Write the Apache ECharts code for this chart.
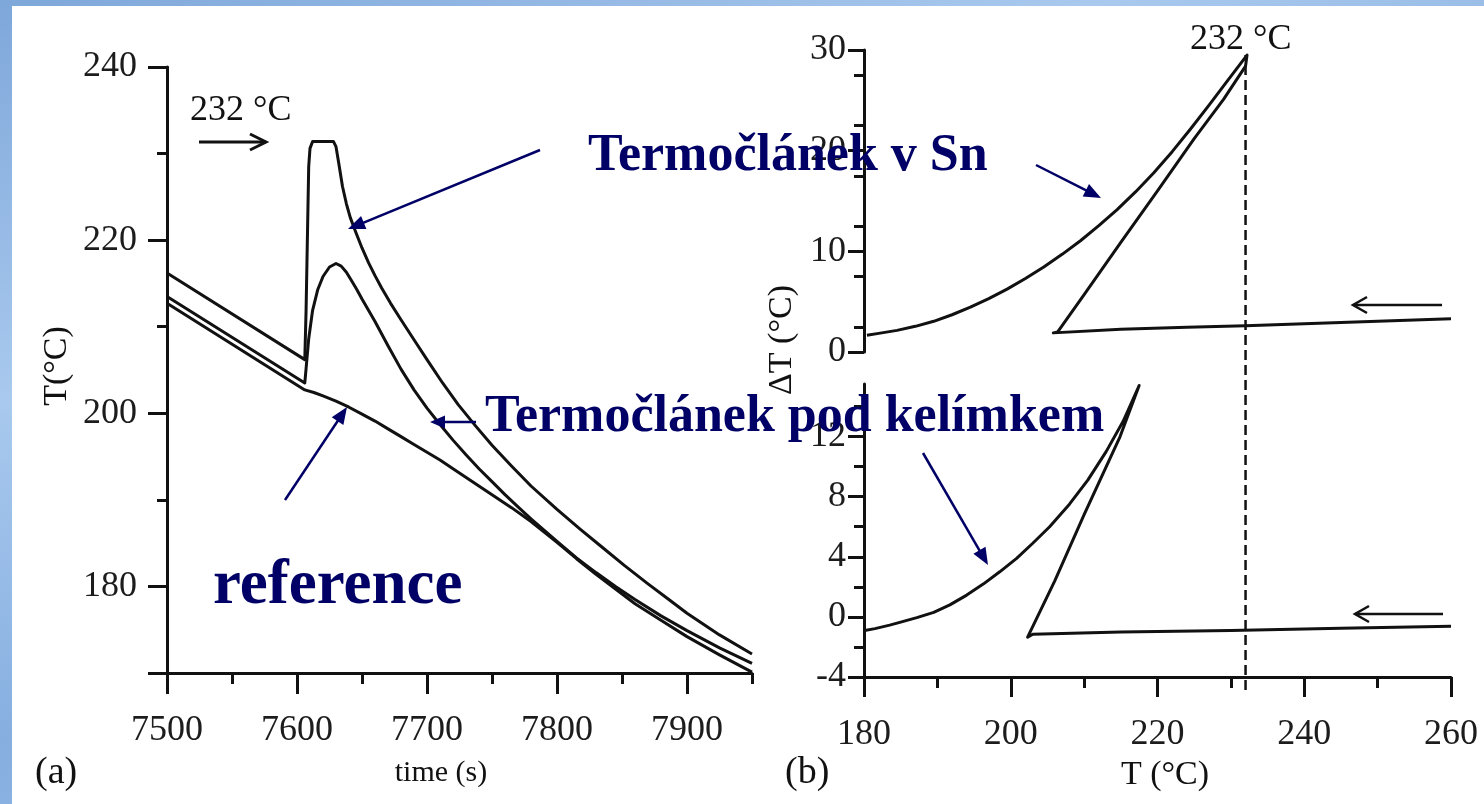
<!DOCTYPE html>
<html>
<head>
<meta charset="utf-8">
<script src="https://cdn.jsdelivr.net/npm/echarts@6/dist/echarts.min.js"></script>
<style>
  html, body { margin: 0; padding: 0; }
  body {
    width: 1484px; height: 804px; overflow: hidden; position: relative;
    background: linear-gradient(160deg, #7ea7da 0%, #a9c9ee 30%, #86afe0 55%, #9ec1ea 100%);
  }
  #paper { position: absolute; left: 12px; top: 6px; width: 1472px; height: 798px; background: #fff; }
  #chart { position: absolute; left: 0; top: 0; width: 1484px; height: 804px; }
</style>
</head>
<body>
<div id="paper"></div>
<div id="chart"></div>
<script>
// ---- (a) temperature vs. time during cooling through the Sn freezing point ----
const timeSn = [7500, 7606, 7607, 7609, 7610, 7612, 7628, 7630, 7632, 7635, 7638, 7641, 7645, 7650, 7655, 7660, 7665, 7672, 7680, 7690, 7700, 7712, 7724, 7737, 7750, 7765, 7780, 7800, 7818, 7835, 7852, 7870, 7885, 7900, 7925, 7950];
const tempSn = [216.2, 206.2, 212.0, 228.5, 230.6, 231.4, 231.4, 230.8, 229.0, 226.2, 224.2, 222.6, 221.0, 219.1, 217.4, 215.9, 214.5, 212.7, 210.8, 208.5, 206.2, 203.5, 201.0, 198.6, 196.3, 193.9, 191.6, 188.9, 186.6, 184.5, 182.4, 180.3, 178.6, 176.9, 174.4, 172.2];

const timePod = [7500, 7606, 7607, 7609, 7612, 7616, 7620, 7625, 7630, 7634, 7638, 7642, 7646, 7650, 7655, 7660, 7670, 7680, 7690, 7700, 7710, 7720, 7730, 7740, 7750, 7760, 7770, 7780, 7790, 7800, 7815, 7830, 7845, 7860, 7880, 7900, 7925, 7950];
const tempPod = [213.5, 203.5, 205.2, 208.6, 211.9, 214.3, 215.8, 216.9, 217.3, 217.0, 216.3, 215.3, 214.3, 213.2, 211.9, 210.6, 207.8, 205.1, 202.7, 200.6, 198.7, 196.9, 195.2, 193.6, 192.1, 190.6, 189.2, 187.8, 186.5, 185.2, 183.3, 181.6, 180.0, 178.5, 176.6, 174.9, 172.9, 171.1];

const timeRef = [7500, 7606, 7613, 7620, 7630, 7640, 7650, 7660, 7670, 7680, 7690, 7700, 7710, 7720, 7735, 7750, 7765, 7780, 7800, 7815, 7830, 7845, 7860, 7880, 7900, 7925, 7950];
const tempRef = [212.7, 202.7, 202.4, 202.0, 201.4, 200.7, 199.9, 199.1, 198.2, 197.3, 196.4, 195.5, 194.6, 193.6, 192.1, 190.6, 189.1, 187.5, 185.1, 183.2, 181.4, 179.7, 178.0, 176.1, 174.2, 172.1, 170.1];

const timeTicks = [7500, 7600, 7700, 7800, 7900];
const timeMinor = [7550, 7650, 7750, 7850, 7950];
const tempTicks = [180, 200, 220, 240];
const tempTickMarks = [170, 180, 200, 220, 240];
const tempMinor = [190, 210, 230];

// ---- (b) temperature difference vs. sample temperature ----
// path order: heating branch from the right, melting rise, then cooling branch back to the left
const tSn  = [260, 250, 240, 232, 224, 215, 205.8, 206.4, 210, 215, 220, 225, 229, 232, 232.2, 229.5, 227, 224.5, 222, 219.5, 217, 214.5, 212, 209.5, 207, 204.5, 202, 199.5, 197, 194.5, 192, 189.5, 187, 184.5, 182, 180.4];
const dTSn = [3.3, 3.05, 2.8, 2.6, 2.45, 2.25, 1.9, 2.0, 5.7, 10.9, 16.0, 21.2, 25.1, 28.4, 29.5, 26.9, 24.5, 22.15, 19.9, 17.8, 15.9, 14.15, 12.55, 11.05, 9.7, 8.45, 7.3, 6.25, 5.3, 4.45, 3.7, 3.05, 2.55, 2.15, 1.85, 1.66];

const tPod  = [260, 245, 230, 215, 203, 202.3, 206, 210, 214.9, 217.5, 215.3, 213, 210.5, 208, 205.3, 203, 200.8, 198.5, 196.3, 194, 191.7, 189.5, 187.2, 185, 183.5, 181.5, 180.1];
const dTPod = [-0.62, -0.76, -0.9, -1.0, -1.15, -1.35, 2.4, 6.8, 12.0, 15.4, 13.0, 11.0, 9.1, 7.5, 6.0, 4.9, 3.9, 3.0, 2.2, 1.45, 0.8, 0.3, -0.05, -0.35, -0.55, -0.78, -0.9];

const meltT = 232;
const tbTicks = [180, 200, 220, 240, 260];
const dTTopTicks = [0, 10, 20, 30];
const dTPodTicks = [-4, 0, 4, 8, 12];
const dTPodMinor = [-2, 2, 6, 10, 14];

const SERIF = '"Liberation Serif", "Times New Roman", serif';
const INK = '#111111';
const NAVY = '#000066';

const pairs = (xs, ys) => xs.map((x, i) => [x, ys[i]]);

const line = { show: true, onZero: false, lineStyle: { color: INK, width: 3 } };
const noLine = { show: false, onZero: false };
const tick = (len, values) => ({ show: true, length: len, customValues: values, lineStyle: { color: INK, width: 3 } });
const label = (margin, values) => ({
  show: true, customValues: values, margin, fontFamily: SERIF, fontSize: 36, color: '#1c1c1c',
  formatter: v => String(v)
});
const hidden = { show: false };

function curve(xi, yi, data) {
  return {
    type: 'line', xAxisIndex: xi, yAxisIndex: yi, data,
    symbol: 'none', showSymbol: false, smooth: false, clip: false,
    lineStyle: { color: INK, width: 3, join: 'round' }, z: 3, silent: true
  };
}

// annotation arrows: filled head (navy) or open head (black)
function arrow(x1, y1, x2, y2, color, width, headLen, headW, open) {
  const a = Math.atan2(y2 - y1, x2 - x1);
  const c = Math.cos(a), s = Math.sin(a);
  const bx = x2 - headLen * c, by = y2 - headLen * s;
  const px = -s * headW / 2, py = c * headW / 2;
  const els = [];
  if (open) {
    els.push({ type: 'line', shape: { x1, y1, x2, y2 }, style: { stroke: color, lineWidth: width }, z: 50 });
    els.push({ type: 'polyline', shape: { points: [[bx + px, by + py], [x2, y2], [bx - px, by - py]] },
               style: { stroke: color, lineWidth: width, fill: null }, z: 50 });
  } else {
    els.push({ type: 'line', shape: { x1, y1, x2: bx + 2 * c, y2: by + 2 * s }, style: { stroke: color, lineWidth: width }, z: 50 });
    els.push({ type: 'polygon', shape: { points: [[x2, y2], [bx + px, by + py], [bx - px, by - py]] },
               style: { fill: color }, z: 50 });
  }
  return els;
}

function text(x, y, str, font, opts = {}) {
  return {
    type: 'text', x, y, rotation: opts.rotation || 0, z: 60,
    style: { text: str, font, fill: opts.fill || INK, align: opts.align || 'left', verticalAlign: 'middle' }
  };
}

const graphics = [
  text(190, 111, '232 °C', '36px ' + SERIF),
  ...arrow(199, 142, 266, 142, INK, 3, 16, 16, true),
  text(1190, 40, '232 °C', '36px ' + SERIF),
  ...arrow(1442, 305, 1353, 305, INK, 2.5, 14, 16, true),
  ...arrow(1443, 614, 1355, 614, INK, 2.5, 14, 16, true),
  text(57, 366, 'T(°C)', '34px ' + SERIF, { rotation: Math.PI / 2, align: 'center' }),
  text(782, 340, 'ΔT (°C)', '34px ' + SERIF, { rotation: Math.PI / 2, align: 'center' }),
  text(441, 773, 'time (s)', '30px ' + SERIF, { align: 'center' }),
  text(35, 773, '(a)', '38px ' + SERIF),
  text(785, 773, '(b)', '38px ' + SERIF),
  text(1165, 775, 'T (°C)', '34px ' + SERIF, { align: 'center' }),
  text(588, 157, 'Termočlánek v Sn', 'bold 52px ' + SERIF, { fill: NAVY }),
  text(485, 418, 'Termočlánek pod kelímkem', 'bold 52px ' + SERIF, { fill: NAVY }),
  text(213, 587, 'reference', 'bold 63px ' + SERIF, { fill: NAVY }),
  ...arrow(540, 150, 348, 229, NAVY, 2.5, 17, 14, false),
  ...arrow(285, 500, 347, 407, NAVY, 2.5, 17, 14, false),
  ...arrow(476, 422, 430, 422, NAVY, 2.5, 15, 13, false),
  ...arrow(1036, 165, 1101, 198, NAVY, 2.5, 17, 14, false),
  ...arrow(923, 453, 988, 565, NAVY, 2.5, 17, 14, false)
];

const option = {
  animation: false,
  backgroundColor: 'transparent',
  grid: [
    { left: 167, top: 67, width: 585, height: 606 },
    { left: 864, top: 50, width: 587, height: 302 },
    { left: 864, top: 384, width: 587, height: 293 },
    { left: 864, top: 55, width: 587, height: 635 }
  ],
  xAxis: [
    { gridIndex: 0, type: 'value', position: 'bottom', min: 7500, max: 7950,
      axisLine: line, axisTick: tick(21, timeTicks), axisLabel: label(40, timeTicks), splitLine: hidden },
    { gridIndex: 0, type: 'value', position: 'bottom', min: 7500, max: 7950,
      axisLine: noLine, axisTick: tick(11, timeMinor), axisLabel: hidden, splitLine: hidden },
    { gridIndex: 1, type: 'value', min: 180, max: 260, show: false },
    { gridIndex: 2, type: 'value', position: 'bottom', min: 180, max: 260,
      axisLine: line, axisTick: tick(20, tbTicks), axisLabel: label(40, tbTicks),
      minorTick: { show: true, splitNumber: 2, length: 11, lineStyle: { color: INK, width: 3 } },
      splitLine: hidden, minorSplitLine: hidden },
    { gridIndex: 3, type: 'value', min: 180, max: 260, show: false }
  ],
  yAxis: [
    { gridIndex: 0, type: 'value', position: 'left', min: 170, max: 240,
      axisLine: line, axisTick: tick(19, tempTickMarks), axisLabel: label(30, tempTicks), splitLine: hidden },
    { gridIndex: 0, type: 'value', position: 'left', min: 170, max: 240,
      axisLine: noLine, axisTick: tick(10, tempMinor), axisLabel: hidden, splitLine: hidden },
    { gridIndex: 1, type: 'value', position: 'left', min: 0, max: 30,
      axisLine: line, axisTick: tick(16, dTTopTicks), axisLabel: label(18, dTTopTicks),
      minorTick: { show: true, splitNumber: 2, length: 10, lineStyle: { color: INK, width: 3 } },
      splitLine: hidden, minorSplitLine: hidden },
    { gridIndex: 2, type: 'value', position: 'left', min: -4, max: 15.5,
      axisLine: line, axisTick: tick(16, dTPodTicks), axisLabel: label(18, dTPodTicks), splitLine: hidden },
    { gridIndex: 2, type: 'value', position: 'left', min: -4, max: 15.5,
      axisLine: noLine, axisTick: tick(10, dTPodMinor), axisLabel: hidden, splitLine: hidden },
    { gridIndex: 3, type: 'value', min: 0, max: 1, show: false }
  ],
  series: [
    curve(0, 0, pairs(timeSn, tempSn)),
    curve(0, 0, pairs(timePod, tempPod)),
    curve(0, 0, pairs(timeRef, tempRef)),
    curve(2, 2, pairs(tSn, dTSn)),
    curve(3, 3, pairs(tPod, dTPod)),
    {
      type: 'line', xAxisIndex: 4, yAxisIndex: 5, data: [[meltT, 0], [meltT, 1]],
      symbol: 'none', silent: true, z: 2,
      lineStyle: { color: INK, width: 2.5, type: [10, 5] }
    }
  ],
  graphic: graphics
};

const chart = echarts.init(document.getElementById('chart'));
chart.setOption(option);
</script>
</body>
</html>
